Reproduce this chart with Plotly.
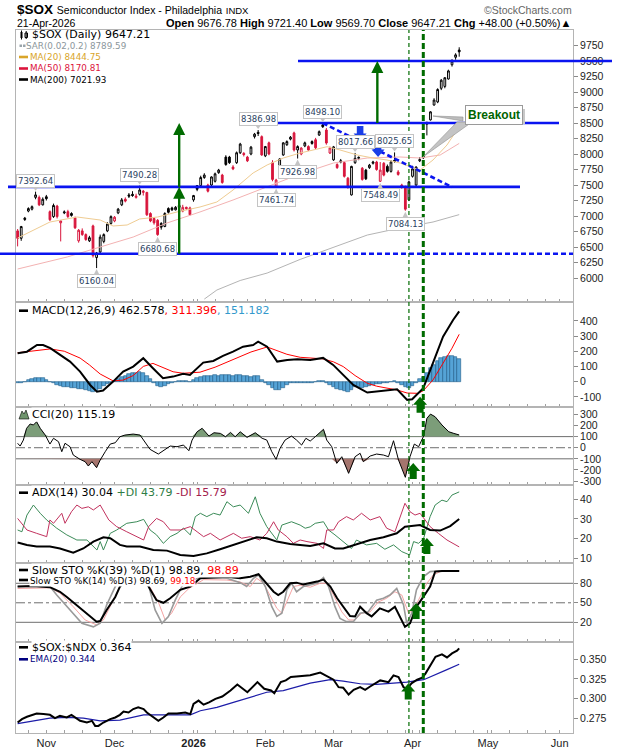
import numpy as np
import pandas as pd
import plotly.graph_objects as go

W, H = 620, 750
X0, X1, Y0, Y1 = 16, 573, 30, 733          # plot area in pixels
LEG = "DejaVu Sans"
TXT = "Liberation Sans"

# trading calendar (US market holidays inside the window)
holidays = pd.to_datetime(["2025-11-27", "2025-12-25", "2026-01-01", "2026-01-19",
                           "2026-02-16", "2026-04-03", "2026-05-25"])
cal = pd.bdate_range("2025-10-22", "2026-06-19")
cal = cal[~cal.isin(holidays)]

# ---- daily candles, 22-Oct-2025 .. 21-Apr-2026 ----
opens = [
    6760, 6640, 6965, 7080, 7110, 7300, 7300, 7180, 7310, 7070,
    6990, 7160, 6890, 7050, 7070, 7040, 6970, 6600, 6760, 6700,
    6600, 6840, 6330, 6420, 6590, 6760, 6880, 6920, 7050, 7180,
    7270, 7340, 7350, 7300, 7350, 7380, 7380, 7040, 6960, 6930,
    6880, 6830, 7120, 7130, 7100, 7140, 7080, 7140, 7130, 7260,
    7490, 7490, 7620, 7500, 7500, 7560, 7700, 7660, 7950, 7950,
    7790, 7860, 8020, 8010, 7950, 8000, 8280, 8350, 8280, 7970,
    8180, 7860, 7480, 7720, 7985, 8150, 8240, 8340, 8065, 8000,
    8130, 8120, 8200, 8230, 8306, 8470, 8387, 8016, 7905, 7830,
    7870, 7860, 7610, 7340, 7860, 7930, 7770, 7740, 7780, 7850,
    7870, 7560, 7850, 7800, 7720, 7900, 7710, 7500, 7470, 7260,
    7640, 7500, 7890, 7960, 8480, 8550, 8790, 8840, 9060, 9090,
    9210, 9440, 9560, 9676.78]
highs = [
    6790, 6840, 6985, 7140, 7170, 7392.64, 7330, 7300, 7340, 7090,
    7200, 7180, 6930, 7090, 7100, 7060, 6990, 6790, 6800, 6720,
    6680, 6860, 6420, 6700, 6720, 6900, 7010, 7000, 7130, 7290,
    7300, 7370, 7400, 7360, 7490.28, 7420, 7390, 7060, 6980, 6950,
    6900, 7060, 7140, 7150, 7160, 7190, 7180, 7150, 7150, 7340,
    7500, 7650, 7690, 7520, 7640, 7700, 7760, 7680, 7980, 7970,
    7820, 8040, 8180, 8030, 7970, 8130, 8340, 8386.98, 8300, 8130,
    8200, 7900, 7600, 7930, 8190, 8220, 8290, 8360, 8140, 8110,
    8200, 8140, 8220, 8260, 8380, 8498.10, 8420, 8120, 8130, 7850,
    7920, 7880, 7630, 7810, 8017.66, 7960, 7790, 7760, 7840, 7890,
    7890, 7870, 7870, 7830, 7900, 8025.65, 7740, 7520, 7490, 7570,
    7810, 7800, 7950, 8000, 8520, 8690, 8900, 9060, 9210, 9240,
    9360, 9530, 9625, 9721.40]
lows = [
    6510, 6600, 6920, 7060, 7090, 7270, 7160, 7170, 7250, 6920,
    6970, 6960, 6590, 7030, 6970, 6990, 6790, 6570, 6680, 6600,
    6580, 6330, 6160.04, 6400, 6560, 6740, 6860, 6900, 7030, 7160,
    7220, 7290, 7310, 7280, 7330, 7330, 7000, 6900, 6860, 6680.68,
    6780, 6820, 7040, 7080, 7090, 7120, 7060, 7100, 7010, 7230,
    7400, 7480, 7600, 7380, 7480, 7540, 7680, 7520, 7810, 7840,
    7740, 7840, 8000, 7960, 7870, 7980, 8250, 8290, 7970, 7950,
    7980, 7560, 7461.74, 7700, 7970, 8130, 8220, 8040, 7926.98, 7980,
    8110, 8050, 8150, 8080, 8290, 8420, 8150, 8000, 7890, 7760,
    7850, 7620, 7440, 7330, 7840, 7900, 7570, 7580, 7760, 7830,
    7730, 7548.49, 7640, 7700, 7700, 7860, 7650, 7440, 7084.13, 7240,
    7620, 7480, 7870, 7920, 8300, 8540, 8780, 8820, 9030, 9060,
    9200, 9410, 9520, 9569.70]
closes = [
    6640, 6830, 6945, 7120, 7150, 7340, 7180, 7270, 7280, 6940,
    7170, 6990, 6920, 7065, 6990, 7010, 6810, 6770, 6700, 6620,
    6650, 6360, 6400, 6660, 6700, 6870, 6990, 6980, 7110, 7260,
    7240, 7320, 7330, 7320, 7420, 7400, 7020, 6920, 6890, 6700,
    6820, 7040, 7060, 7100, 7140, 7170, 7140, 7120, 7020, 7330,
    7430, 7620, 7660, 7400, 7630, 7680, 7740, 7540, 7830, 7860,
    7760, 8020, 8160, 7990, 7890, 8110, 8320, 8330, 7985, 8120,
    8000, 7590, 7580, 7920, 8180, 8200, 8270, 8065, 8120, 8095,
    8180, 8065, 8170, 8100, 8360, 8440, 8177, 8097, 8115, 7780,
    7890, 7640, 7470, 7800, 7930, 7945, 7590, 7600, 7820, 7870,
    7750, 7740, 7660, 7720, 7870, 7880, 7670, 7460, 7110, 7550,
    7760, 7790, 7910, 7940, 8510, 8680, 8870, 9040, 9190, 9230,
    9340, 9500, 9599.21, 9647.21]
sar_last = 8789.59

# ---- overlays (x = trading-day number) ----
ma20_x = [0, 9, 16.6, 23, 26.6, 30.5, 34, 39, 44.4, 50.8, 55.5, 60, 65.6, 69.5, 74, 78.7,
          82, 86.2, 89.8, 94.6, 99, 102.9, 106.5, 110.2, 112.1, 115.7, 119.6, 123]
ma20_y = [6645, 6903, 6984, 6935, 6839, 6855, 6952, 6984, 7065, 7145, 7226, 7419, 7694, 7823,
          7935, 8016, 8060, 8118, 8065, 7984, 7935, 7903, 7855, 7774, 7742, 7903, 8145, 8444.75]
ma50_x = [0, 13.8, 23, 32.2, 41.6, 50.8, 60, 69.5, 78.7, 88, 97.4, 106.5, 112.1, 117.7, 123]
ma50_y = [6145, 6339, 6500, 6661, 6887, 7065, 7258, 7468, 7677, 7855, 7935, 7952, 7935, 7984, 8170.81]
ma200_x = [52, 55.5, 62, 69.5, 78.7, 88, 97.4, 106.5, 115.7, 123]
ma200_y = [5660, 5806, 5960, 6080, 6300, 6500, 6693, 6806, 6903, 7021.93]

macd_x = [0, 2.6, 5.4, 7.1, 9.1, 11.8, 14.6, 17.4, 20.2, 22.1, 23.8, 26.6, 29.4, 32.2, 35, 37.7,
          40.5, 43.3, 46.1, 48, 51.7, 54.5, 57.2, 60, 62.8, 65.6, 67, 69.5, 72.3, 75.1, 77.9,
          81.5, 85.1, 87.9, 90.7, 93.5, 97.4, 100.1, 102.9, 105.7, 108.5, 109.9, 113, 115.7,
          118.5, 121.3, 123]
macd_y = [187, 197, 241, 241, 220, 176, 132, 66, -22, -66, -59, 0, 66, 99, 154, 88, 22, 33, 51,
          44, 125, 136, 169, 197, 230, 241, 263, 230, 132, 143, 147, 143, 156, 110, 44, -22, -72,
          -66, -55, -50, -120, -116, -43, 121, 296, 406, 462.578]
sig_x = [0, 9.1, 13, 17.4, 20, 23, 26.6, 29.4, 32.2, 35, 37.7, 40.5, 43.3, 46.1, 50.8, 55, 60, 65,
         69.5, 72.3, 75, 78.7, 81.5, 85, 88, 90.7, 94, 97.4, 100, 102.9, 105.7, 108.5, 111.5,
         113, 115.7, 118.5, 121, 123]
sig_y = [190, 215, 200, 155, 110, 50, 5, 10, 40, 100, 120, 90, 65, 55, 62, 95, 143, 195, 228,
         205, 180, 160, 155, 150, 130, 99, 40, -11, -30, -44, -55, -75, -77, -60, 11, 121, 220,
         311.396]
hist = [
    -8, -6, -2, 10, 18, 22, 24, 22, 12, -2,
    -12, -22, -30, -34, -38, -42, -44, -46, -50, -56,
    -62, -66, -62, -48, -32, -18, -6, 4, 18, 30,
    40, 48, 54, 58, 62, 58, 40, 18, -10, -28,
    -38, -30, -18, -8, -2, 2, 4, 2, -4, 10,
    22, 30, 36, 38, 40, 42, 40, 42, 44, 42,
    40, 42, 44, 40, 34, 32, 38, 40, 10, -8,
    -22, -40, -58, -56, -40, -22, -12, -10, -12, -10,
    -8, -8, -6, -4, 2, 6, -8, -20, -34, -48,
    -58, -64, -66, -52, -38, -34, -40, -36, -28, -22,
    -18, -16, -12, -8, -4, 6, -6, -22, -36, -40,
    -26, -8, 16, 30, 60, 90, 110, 135, 155, 165,
    170, 168, 162, 151.182]

cci_x = [0, 0.7, 1.6, 2.5, 3.5, 4.4, 5.3, 6.3, 7.7, 9, 10, 11.4, 12.3, 13.2, 14.6, 15.5, 17.4,
         18.8, 19.7, 20.7, 22, 23, 24.4, 25.8, 27.2, 28.5, 29.9, 32.2, 34.1, 35.5, 36.9, 39.2,
         41.1, 42.5, 44.4, 46.2, 47.7, 48.6, 50, 51.4, 53.3, 54.7, 56.5, 57.9, 59.3, 60.6, 62,
         63.9, 66.2, 68.1, 69.4, 70.8, 72, 73.1, 74.5, 76.3, 77.7, 79.1, 80.3, 81.5, 82.9, 85.2,
         86.1, 87.5, 88.9, 90.3, 92.2, 94, 95.4, 96.3, 98.2, 100, 101.9, 103.3, 104.7, 106.1,
         108, 109.3, 110.5, 111.7, 113.1, 114, 115, 116.3, 118.2, 120.1, 121.5, 123]
cci_y = [40, 15, 69, 175, 214, 205, 234, 175, 114, 33, 85, 54, -36, 40, 9, -66, -105, -126,
         -165, -126, -180, -111, -36, 33, 45, 99, 114, 123, 114, 54, -15, -57, -15, 15, 9, 24,
         -27, 69, 144, 175, 105, 135, 129, 99, 138, 99, 144, 93, 135, 85, 69, -36, -105, -5, 69,
         105, 69, 24, 85, 60, 99, 166, 69, 9, -141, -81, -231, -81, -50, -126, -75, -57, -66,
         -81, 63, -111, -267, -81, 33, 9, 105, 265, 303, 279, 205, 144, 129, 115.19]

adx_x = [0, 2.6, 5.3, 9, 11.8, 15.5, 18.3, 21.1, 23.9, 25.8, 28.5, 30.4, 34.1, 37.8, 41.6, 45.3,
         49, 52.7, 56.4, 60.1, 63.8, 66.6, 69.4, 72.2, 75.9, 81.5, 85.2, 88.4, 90.7, 94.4, 98.2,
         101.9, 105.6, 107.9, 112.1, 114.9, 117.7, 120.5, 123]
adx_y = [18, 16.8, 16, 16, 15, 12.9, 15, 18.5, 20.7, 20.2, 16.8, 16, 16, 14.2, 13.9, 11.7, 11.2,
         12.5, 14.6, 16.8, 18.8, 20.7, 20.2, 18.5, 17.3, 16.3, 17.6, 15, 15, 17.3, 19.3, 20.7,
         22.7, 26.1, 26.9, 24.4, 24.1, 26.4, 30.04]
pdi_x = [0, 1.2, 2.6, 4.4, 6.3, 8.1, 10.9, 13.7, 16.5, 19.3, 22.1, 23, 23.9, 25.8, 27.6, 30.4,
         33.2, 35.1, 36.9, 38.7, 40.6, 42.5, 44.4, 46.2, 48.1, 49.5, 50.9, 52.7, 54.6, 56.4, 58.3,
         60.1, 62, 64.3, 66.2, 67.5, 69.4, 72.2, 73.6, 76.3, 78.7, 80.1, 81.5, 82.9, 85.2, 86.6,
         88.4, 90.7, 93, 94.4, 97.2, 100, 102.3, 104.7, 107, 109.2, 110.3, 111.7, 113.1, 114.9,
         116.3, 118.2, 119.6, 121, 123]
pdi_y = [24.4, 23.5, 32, 37.1, 32.9, 29.5, 25.3, 21.9, 19.3, 19.3, 14.2, 18.5, 14.2, 22.7, 24.4,
         27.8, 28.6, 29.8, 24.4, 21.9, 17.6, 21, 22.7, 25.3, 21.9, 31.2, 32.9, 31.2, 32.9, 32,
         38.8, 36.2, 37.1, 32.9, 41.3, 32.9, 26.1, 19.3, 26.9, 28.6, 26.9, 25.3, 26, 27.8, 28.6,
         24.4, 21.9, 18.5, 15, 19.3, 16.8, 17.6, 14.6, 16.8, 13.4, 11.7, 18.5, 17.6, 20.2, 31.2,
         37.1, 39.6, 38.8, 42.2, 43.79]
mdi_x = [0, 2.6, 5.3, 8.1, 9, 10, 12.3, 13.2, 15, 16.5, 17.9, 19.7, 21.1, 23, 25.4, 27.6, 30.4,
         33.2, 35.1, 36.5, 38.7, 40.6, 42.5, 45.3, 48.1, 50, 51.8, 53.7, 56.4, 60.1, 62.4, 64.8,
         67.5, 69.4, 71.3, 72.6, 75, 76.8, 78.7, 80.6, 83.4, 85.2, 86.1, 88, 89.4, 91.6, 93.5,
         95.8, 98.2, 100.9, 102.8, 105.1, 106.5, 107.9, 109.3, 110.7, 112.1, 113.5, 114.9, 117.2,
         119.6, 123]
mdi_y = [30.3, 24.4, 22.7, 21, 29.5, 27.8, 32.9, 27.8, 33.7, 37.1, 35.4, 36.2, 34.6, 37.1, 29.5,
         26.1, 23.5, 21, 19.3, 26.1, 30.3, 28.6, 24.4, 24.4, 26.1, 23.5, 21, 22.7, 19.3, 22.7,
         20.2, 21, 19.3, 22.7, 28.6, 24.4, 21, 17.6, 19.3, 18.5, 17.6, 15, 24.4, 24.4, 28.6, 31.2,
         29.5, 32.9, 29.5, 31.2, 25.3, 23.5, 31.2, 38, 33.7, 32, 32.9, 29.5, 26.1, 22.7, 19.3,
         15.79]

k39_x = [0, 4.4, 9, 11.8, 13.7, 17.4, 20.1, 22, 23, 24.8, 27.2, 28.5, 30.4, 33.2, 35.1, 36.9,
         38.7, 40.6, 42.5, 45.3, 48.1, 50.9, 54.6, 58.3, 62, 64.8, 67.1, 69.4, 71.3, 72.6, 74,
         75.9, 77.7, 79.6, 81.5, 83.4, 85.2, 87.1, 89, 90.7, 92.6, 94, 95.4, 97.2, 98.6, 100.9,
         103.3, 105.1, 106.5, 107.9, 109.3, 111.1, 113, 114.9, 116.3, 118.2, 123]
k39_y = [75, 76, 74, 67, 59, 41.5, 28.7, 21, 22, 39, 59, 75, 85, 90, 88, 70, 54, 50, 57, 70, 75,
         87.7, 88.9, 90, 87.7, 90, 94, 80, 67, 62, 67, 80, 81, 78, 80, 82.6, 85.6, 75, 57, 44,
         29.7, 29, 44, 34, 29, 41.5, 36.4, 44, 27.7, 13, 18.5, 44, 59, 75, 98, 99, 98.89]
k14_x = [0, 9, 10.9, 14.6, 17.9, 21.1, 23, 24.8, 27.2, 30, 33, 35, 36.5, 38.3, 40.2, 42, 43.9,
         46.2, 48.6, 50.9, 58.3, 62, 63.8, 65.7, 67.1, 69, 70.8, 72.2, 73.6, 75, 76.3, 77.7, 79.6,
         81.5, 83.4, 85.2, 86.6, 88.4, 89.8, 91.6, 93.5, 95.4, 97.6, 100, 101.9, 103.7, 105.6,
         107.5, 108.4, 109.8, 111.1, 113, 114.9, 116.7, 123]
k14_y = [75, 75, 62, 39, 18.5, 13, 18.5, 46.6, 75, 92, 95, 90, 76, 39, 18.5, 29, 54, 80, 85, 88.9,
         87.7, 81, 75, 87.7, 93, 75, 44, 29, 34, 70, 80, 67, 75, 78, 80, 88.9, 75, 44, 26, 21, 21,
         34, 36, 54, 57, 62, 72, 46.6, 18.5, 34, 70, 90, 98, 99, 98.69]
d3_x = [0, 9, 11.8, 15.5, 18.8, 22, 23.9, 26.2, 29, 33, 36.9, 39.2, 41.1, 42.9, 45.3, 47.7, 50,
        51.8, 58.3, 62, 64.8, 66.6, 68.5, 70.4, 72.2, 73.6, 75, 76.8, 78.7, 81.5, 84.3, 86.1, 88,
        90.3, 92.2, 94, 95.8, 98.2, 100.4, 102.8, 105.1, 107, 108.9, 110.3, 112.1, 114, 115.8,
        118.2, 123]
d3_y = [72, 73, 65, 44, 23.6, 16, 23.6, 50, 80, 92, 74, 51, 23.6, 34, 59, 72, 80, 85.6, 85, 82,
        75, 87.7, 80, 59, 41.5, 34, 51, 75, 77, 74, 80, 80, 62, 36, 23.6, 23.6, 34, 36, 51, 57,
        67, 62, 34, 39, 59, 80, 93, 99, 99.18]

ratio_x = [0, 1.2, 2.6, 4, 5.3, 7.2, 9, 10.4, 11.8, 13.7, 15, 17.4, 19.3, 20.7, 21.6, 22.5, 23.9,
           25.8, 27.2, 28.5, 29.5, 30.9, 32.2, 33.6, 35.1, 36, 37.4, 39.2, 40.6, 42, 44.4, 46.7,
           48.1, 49, 50.4, 51.8, 53.3, 55.1, 57, 59.3, 61.2, 64, 66.8, 68.7, 70.6, 71.5, 73.3,
           74.7, 76.1, 78, 79.8, 81.5, 84.3, 86.1, 88, 89.4, 90.7, 92.2, 93.6, 95.4, 96.8, 98.2,
           101, 103.3, 104.7, 106.1, 107.5, 108.4, 109.8, 111.3, 112.7, 113.6, 115, 116.4, 118.2,
           119.6, 121, 122.4, 123]
ratio_y = [0.2692, 0.2736, 0.2766, 0.2791, 0.2808, 0.2800, 0.2791, 0.2749, 0.2778, 0.2757, 0.2791,
           0.2714, 0.2692, 0.2714, 0.2649, 0.2649, 0.2692, 0.2736, 0.2757, 0.2791, 0.2834, 0.2821,
           0.2865, 0.2886, 0.2865, 0.2821, 0.2778, 0.2714, 0.2757, 0.2808, 0.2808, 0.2821, 0.2800,
           0.2930, 0.2973, 0.2921, 0.2951, 0.2995, 0.3025, 0.3102, 0.3180, 0.3080, 0.3210, 0.3124,
           0.3102, 0.3068, 0.3210, 0.3232, 0.3275, 0.3284, 0.3297, 0.3297, 0.3332, 0.3284, 0.3241,
           0.3145, 0.3137, 0.3050, 0.3111, 0.3145, 0.3111, 0.3154, 0.3232, 0.3210, 0.3297, 0.3275,
           0.3145, 0.3124, 0.3197, 0.3241, 0.3267, 0.3319, 0.3426, 0.3534, 0.3565, 0.3526, 0.3578,
           0.3612, 0.3643]
ema_x = [0, 9, 13.7, 18.3, 23, 28.5, 35.1, 41.6, 48.1, 50.9, 55.5, 60.1, 64.8, 69.4, 74, 81.5,
         87.1, 90.7, 95.4, 100, 104.7, 108.4, 113.1, 116.8, 119.6, 123]
ema_y = [0.2679, 0.2749, 0.2757, 0.2749, 0.2714, 0.2723, 0.2791, 0.2791, 0.2791, 0.2843, 0.2886,
         0.2951, 0.3016, 0.3080, 0.3102, 0.3197, 0.3241, 0.3223, 0.3189, 0.3180, 0.3197, 0.3210,
         0.3241, 0.3319, 0.3370, 0.3439]

# chart annotations
support_levels = [9500, 8500, 7470, 6390]
swing_highs = [5, 34, 67, 85, 94, 105]
swing_lows = [22, 39, 72, 78, 101, 108]
signal_day, breakout_day = 109, 113

# ---- geometry ----
XMIN, XMAX = -0.45, 154.7
PANELS = {  # axis: (top px, bottom px, min, max)
    "y": (30, 302, 5613, 10000),
    "y2": (302, 407, -167, 524),
    "y3": (407, 485, -336, 367),
    "y4": (485, 563, 7.6, 47.3),
    "y5": (563, 642, -10.3, 111.2),
    "y6": (642, 733, 0.2558, 0.3724),
}
PW, PH = X1 - X0, Y1 - Y0


def xpix(i):
    return X0 + (i - XMIN) / (XMAX - XMIN) * PW


def ypix(v, ax):
    top, bot, lo, hi = PANELS[ax]
    return top + (hi - v) / (hi - lo) * (bot - top)


def P(xp, yp):
    return (xp - X0) / PW, (Y1 - yp) / PH


def poly(pts, color, line=None):
    path = "M " + " L ".join("%.5f,%.5f" % P(x, y) for x, y in pts) + " Z"
    return dict(type="path", xref="paper", yref="paper", path=path, fillcolor=color,
                line=line or dict(width=0), layer="above")


def block_arrow(xc, ytip, color, up=True, total=16, head=8, hw=7, sw=3.5):
    s = 1 if up else -1
    pts = [(xc, ytip), (xc + hw, ytip + s * head), (xc + sw, ytip + s * head),
           (xc + sw, ytip + s * total), (xc - sw, ytip + s * total),
           (xc - sw, ytip + s * head), (xc - hw, ytip + s * head)]
    return poly(pts, color)


def seg(x0, y0, x1, y1, color, width, dash="solid"):
    a, b = P(x0, y0)
    c, d = P(x1, y1)
    return dict(type="line", xref="paper", yref="paper", x0=a, y0=b, x1=c, y1=d,
                line=dict(color=color, width=width, dash=dash))


def txt(x, y, s, size=11, color="black", family=LEG, anchor="left", bg="rgba(0,0,0,0)"):
    xp, yp = P(x, y)
    return dict(x=xp, y=yp, xref="paper", yref="paper", text=s, showarrow=False,
                xanchor=anchor, yanchor="middle", bgcolor=bg, borderpad=0,
                font=dict(size=size, color=color, family=family))


fig = go.Figure()


def line(x, y, ax, color, width=1):
    n = ax[1:]
    fig.add_trace(go.Scatter(x=x, y=y, mode="lines", line=dict(color=color, width=width),
                             xaxis="x" + n, yaxis=ax, hoverinfo="skip"))


# main price panel
line(ma200_x, ma200_y, "y", "#b4b4b4", 1)
line(ma50_x, ma50_y, "y", "#f3b2b2", 1)
line(ma20_x, ma20_y, "y", "#efcc92", 1)
idx = np.arange(len(closes))
o, h, l, c = map(np.array, (opens, highs, lows, closes))
prev = np.r_[o[0], c[:-1]]
up = c >= prev
for mask, col in [(up, "#000000"), (~up, "#d8163c")]:
    fig.add_trace(go.Candlestick(
        x=idx[mask], open=o[mask], high=h[mask], low=l[mask], close=c[mask],
        increasing=dict(line=dict(color=col, width=1), fillcolor="white"),
        decreasing=dict(line=dict(color=col, width=1), fillcolor=col),
        whiskerwidth=0, xaxis="x", yaxis="y", hoverinfo="skip"))

# MACD
fig.add_trace(go.Bar(x=idx, y=hist, width=1, marker=dict(color="#55a3d6",
                     line=dict(color="#1e5d88", width=0.6)), xaxis="x2", yaxis="y2",
                     hoverinfo="skip"))
line(sig_x, sig_y, "y2", "#ff0000", 1)
line(macd_x, macd_y, "y2", "#000000", 2)

# CCI with shaded extremes
cy = np.array(cci_y)
for lvl, clip, col in [(100, np.maximum, "#7c9d79"), (-100, np.minimum, "#a5756e")]:
    line(cci_x, [lvl] * len(cci_x), "y3", "rgba(0,0,0,0)", 0)
    fig.add_trace(go.Scatter(x=cci_x, y=clip(cy, lvl), mode="lines", line=dict(width=0),
                             fill="tonexty", fillcolor=col, xaxis="x3", yaxis="y3",
                             hoverinfo="skip"))
line(cci_x, cci_y, "y3", "#000000", 1)

# ADX
line(pdi_x, pdi_y, "y4", "#3b8b58", 1)
line(mdi_x, mdi_y, "y4", "#c2325e", 1)
line(adx_x, adx_y, "y4", "#000000", 2)

# Slow stochastics
line(d3_x, d3_y, "y5", "#f5a3a3", 1)
line(k14_x, k14_y, "y5", "#9a9a9a", 1.6)
line(k39_x, k39_y, "y5", "#000000", 2)

# SOX:NDX ratio
line(ema_x, ema_y, "y6", "#1c1ca8", 1.2)
line(ratio_x, ratio_y, "y6", "#000000", 2)

# ---- shapes ----
shapes = []
BLUE = "#0a14f0"
GREEN = "#006b00"
# horizontal support / resistance lines (pixel spans along x)
spans = [(298, 612, "solid"), (247, 559, "solid"), (8, 520, "solid"), (0, 273, "solid"),
         (273, 573, "dash")]
levels = [support_levels[0], support_levels[1], support_levels[2], support_levels[3],
          support_levels[3]]
for (x0, x1, dash), lv in zip(spans, levels):
    shapes.append(dict(type="line", xref="paper", yref="y", x0=P(x0, 0)[0], x1=P(x1, 0)[0],
                       y0=lv, y1=lv, line=dict(color=BLUE, width=2.6,
                                               dash="5px,3px" if dash == "dash" else "solid")))
# falling trend line from the Feb high
shapes.append(dict(type="line", xref="x", yref="y", x0=85, y0=8498.1, x1=121, y1=7468,
                   line=dict(color=BLUE, width=2.6, dash="5px,3px")))
# green measured-move arrows
for i, v0, v1 in [(45, 6390, 7470), (45, 7470, 8500), (100.2, 8500, 9500)]:
    xc, yb, yt = xpix(i), ypix(v0, "y"), ypix(v1, "y")
    shapes.append(seg(xc, yb, xc, yt + 10, GREEN, 2.4))
    shapes.append(poly([(xc, yt), (xc + 6, yt + 12), (xc - 6, yt + 12)], GREEN))
# blue down arrows
for i, v in [(95.4, 8210), (100.4, 7952)]:
    shapes.append(block_arrow(xpix(i), ypix(v, "y"), "#1a3ee8", up=False, total=15,
                              head=7.5, hw=6.5, sw=3.3))
# green buy arrows in the indicator panels
for i, v, ax in [(112.1, -100, "y2"), (110.2, -138, "y3"), (114, 20.3, "y4"),
                 (111, 49.7, "y5"), (108.8, 0.3193, "y6")]:
    shapes.append(block_arrow(xpix(i), ypix(v, ax), GREEN))
# signal / breakout verticals
shapes.append(dict(type="line", xref="x", yref="paper", x0=signal_day, x1=signal_day, y0=0,
                   y1=1, line=dict(color=GREEN, width=1.2, dash="4px,3px")))
shapes.append(dict(type="line", xref="x", yref="paper", x0=breakout_day, x1=breakout_day,
                   y0=0, y1=1, line=dict(color=GREEN, width=3, dash="6px,3px")))
# reference levels in CCI and STO
for ax, lv, dash in [("y3", 100, "solid"), ("y3", -100, "solid"), ("y3", 0, "dashdot"),
                     ("y5", 80, "solid"), ("y5", 20, "solid"), ("y5", 50, "dashdot")]:
    shapes.append(dict(type="line", xref="x" + ax[1:] + " domain", yref=ax, x0=0, x1=1,
                       y0=lv, y1=lv, layer="below",
                       line=dict(color="#6e6e6e", width=1, dash=dash)))
# breakout callout pointers and shadow
shapes.append(poly([(433, 116), (463, 117), (463, 121)], "#bdbdbd",
                   dict(color="#909090", width=0.6)))
shapes.append(poly([(423, 157), (457, 122), (472, 122)], "#c4c4c4",
                   dict(color="#909090", width=0.6)))
shapes.append(poly([(467, 109), (525, 109), (525, 124), (467, 124)], "#c8c8c8"))
# small pointers from the swing labels to their candles
for i in swing_highs:
    xc, yc = xpix(i), ypix(highs[i], "y")
    shapes.append(poly([(xc, yc - 1), (xc - 3, yc - 5), (xc + 3, yc - 5)], "#c4c4c4"))
for i in swing_lows:
    xc, yc = xpix(i), ypix(lows[i], "y")
    shapes.append(poly([(xc, yc + 1), (xc - 3, yc + 7), (xc + 3, yc + 7)], "#c4c4c4"))
# legend swatches
for x0, yy, col in [(19, 57, "#d9a52a"), (19, 68.5, "#dc143c"), (19, 79.5, "#000000"),
                    (19, 310.7, "#000000"), (19, 492.7, "#000000"), (19, 570, "#000000"),
                    (19, 580, "#000000"), (19, 647.3, "#000000"), (19, 659.3, "#000080")]:
    shapes.append(seg(x0, yy, x0 + 9, yy, col, 2.6))
# small candle icon and SAR dots
shapes.append(poly([(20.5, 32), (22.5, 32), (22.5, 38), (20.5, 38)], "#000000"))
shapes.append(seg(21.5, 30.5, 21.5, 39.5, "#000000", 1))
shapes.append(poly([(25, 33), (27.5, 33), (27.5, 37.5), (25, 37.5)], "white",
                   dict(color="#000000", width=1)))
shapes.append(seg(26.2, 31, 26.2, 39, "#000000", 1))
for xx in (19.5, 23):
    shapes.append(poly([(xx, 44.5), (xx + 2.5, 44.5), (xx + 2.5, 47), (xx, 47)], "#9aa4aa"))
# CCI icon
shapes.append(poly([(19, 419), (22, 411), (24, 414), (26, 410), (29, 419)], "#6f946d",
                   dict(color="#000000", width=0.6)))

# ---- text ----
ann = []
for i in swing_highs:
    ann.append(dict(x=i, y=highs[i], xref="x", yref="y", text="%.2f" % highs[i],
                    showarrow=False, yshift=11, bgcolor="white", bordercolor="#c4c4c4",
                    borderwidth=1, borderpad=1, xanchor="center", yanchor="middle",
                    font=dict(size=8.5, family=LEG)))
for i in swing_lows:
    ann.append(dict(x=i, y=lows[i], xref="x", yref="y", text="%.2f" % lows[i],
                    showarrow=False, yshift=-13, bgcolor="white", bordercolor="#c4c4c4",
                    borderwidth=1, borderpad=1, xanchor="center", yanchor="middle",
                    font=dict(size=8.5, family=LEG)))
bx, by = P(494, 114.5)
ann.append(dict(x=bx, y=by, xref="paper", yref="paper", text="<b>Breakout</b>",
                showarrow=False, bgcolor="white", bordercolor="#9a9a9a", borderwidth=1,
                borderpad=2, xanchor="center", yanchor="middle",
                font=dict(size=12, color="#006400", family=TXT)))

chg = closes[-1] - closes[-2]
ann += [
    txt(16, 9.5, "<b>$SOX</b> <span style='font-size:10.5px'>Semiconductor Index - Philadelphia"
        "</span> <span style='font-size:9.5px'>INDX</span>", 13.5, family=TXT),
    txt(573, 9.5, "©StockCharts.com", 10.5, "#666666", TXT, "right"),
    txt(16, 22.5, "21-Apr-2026", 10.5, family=TXT),
    txt(572, 22.5, "<b>Open</b> %.2f <b>High</b> %.2f <b>Low</b> %.2f <b>Close</b> %.2f "
        "<b>Chg</b> %+.2f (%+.2f%%)▲" % (opens[-1], highs[-1], lows[-1], closes[-1], chg,
                                        100 * chg / closes[-2]), 11, family=TXT,
        anchor="right"),
    txt(31, 35, "$SOX (Daily) %.2f" % closes[-1], 11),
    txt(25, 46, "SAR(0.02,0.2) %.2f" % sar_last, 8.8, "#8c979c"),
    txt(29, 57, "MA(20) %.2f" % ma20_y[-1], 8.8, "#d9a52a"),
    txt(29, 68.5, "MA(50) %.2f" % ma50_y[-1], 8.8, "#dc143c"),
    txt(29, 79.5, "MA(200) %.2f" % ma200_y[-1], 8.8),
    txt(31, 310.7, "MACD(12,26,9) %.3f<span style='color:#ff0000'>, %.3f</span>"
        "<span style='color:#3399cc'>, %.3f</span>" % (macd_y[-1], sig_y[-1], hist[-1]),
        11, bg="white"),
    txt(31, 414.3, "CCI(20) %.2f" % cci_y[-1], 11, bg="white"),
    txt(31, 492.7, "ADX(14) %.2f <span style='color:#2e7d46'>+DI %.2f</span> "
        "<span style='color:#a3204c'>-DI %.2f</span>" % (adx_y[-1], pdi_y[-1], mdi_y[-1]),
        11, bg="white"),
    txt(31, 570, "Slow STO %%K(39) %%D(1) %.2f, <span style='color:#ff0000'>%.2f</span>"
        % (k39_y[-1], k39_y[-1]), 11, bg="white"),
    txt(29, 580.5, "Slow STO %%K(14) %%D(3) %.2f, <span style='color:#ff0000'>%.2f</span>"
        % (k14_y[-1], d3_y[-1]), 8.8, bg="white"),
    txt(31, 647.3, "$SOX:$NDX %.3f" % ratio_y[-1], 11, bg="white"),
    txt(29, 659.3, "EMA(20) %.3f" % ema_y[-1], 8.8, "#000080", bg="white"),
]

# ---- axes ----
month_names = {11: "Nov", 12: "Dec", 1: "<b>2026</b>", 2: "Feb", 3: "Mar", 4: "Apr",
               5: "May", 6: "Jun"}
pos = np.arange(len(cal))
inrange = pos <= XMAX
mstart = [k for k in pos[inrange] if k > 0 and cal[k].month != cal[k - 1].month]
wstart = [k for k in pos[inrange] if k > 0 and cal[k].week != cal[k - 1].week]
tv = sorted(set(mstart) | set(wstart))
tt = [month_names[cal[k].month] if k in mstart else "" for k in tv]

ytick = {
    "y": (list(range(6000, 9751, 250)), None),
    "y2": (list(range(-100, 401, 100)), None),
    "y3": (list(range(-300, 301, 100)), None),
    "y4": ([10, 20, 30, 40], None),
    "y5": ([20, 50, 80], None),
    "y6": ([0.275, 0.300, 0.325, 0.350], ["0.275", "0.300", "0.325", "0.350"]),
}
layout = {}
for n, ax in enumerate(PANELS, start=1):
    top, bot, lo, hi = PANELS[ax]
    sfx = "" if n == 1 else str(n)
    vals, text = ytick[ax]
    layout["yaxis" + sfx] = dict(
        domain=[(Y1 - bot) / PH, (Y1 - top) / PH], range=[lo, hi], side="right",
        anchor="x" + sfx, tickmode="array", tickvals=vals,
        ticktext=text or [str(v) for v in vals], ticks="outside", ticklen=4,
        tickcolor="#8a8a8a", showline=True, mirror=True, linecolor="#b4b4b4", linewidth=1,
        showgrid=False, zeroline=False, fixedrange=True, automargin=False,
        tickfont=dict(size=10.5, family=TXT, color="#222222"))
    xa = dict(domain=[0, 1], anchor="y" + sfx, range=[XMIN, XMAX], tickmode="array",
              tickvals=tv, ticktext=tt, ticks="inside", ticklen=3, tickcolor="#a0a0a0",
              showticklabels=(n == 6), showline=True, mirror=True, linecolor="#b4b4b4",
              linewidth=1, showgrid=False, zeroline=False, fixedrange=True, automargin=False,
              tickfont=dict(size=11, family=TXT, color="#222222"))
    if n == 1:
        xa["rangeslider"] = dict(visible=False)
    else:
        xa["matches"] = "x"
    layout["xaxis" + sfx] = xa

fig.update_layout(**layout)
fig.update_layout(width=W, height=H,
                  margin=dict(l=X0, r=W - X1, t=Y0, b=H - Y1, pad=0, autoexpand=False),
                  plot_bgcolor="white", paper_bgcolor="white", showlegend=False,
                  hovermode=False, barmode="overlay", bargap=0,
                  shapes=shapes, annotations=ann, font=dict(family=TXT))
# drop the browser's default 8px page margin so the figure sits at the window corner
fig.write_html("out.html", config={"displayModeBar": False},
               post_script="document.body.style.margin='0px';")
